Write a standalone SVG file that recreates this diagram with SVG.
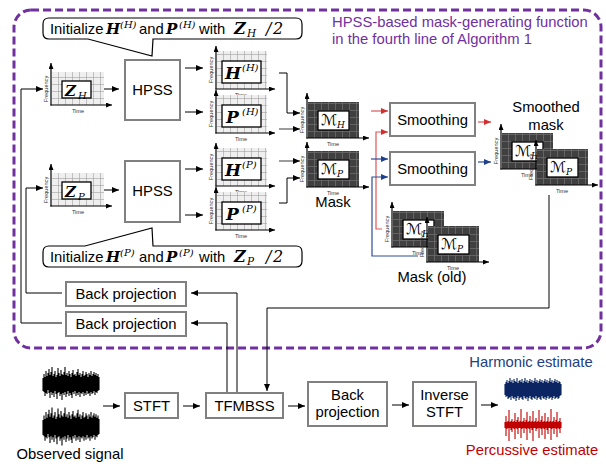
<svg xmlns="http://www.w3.org/2000/svg" xmlns:xlink="http://www.w3.org/1999/xlink" width="606" height="466" viewBox="0 0 606 466">
<style>
.t{font-family:"Liberation Sans",Arial,sans-serif;font-size:14.8px;fill:#000}
.sm{font-family:"Liberation Sans",Arial,sans-serif;font-size:5.6px;fill:#333}
.mb{font-family:"DejaVu Serif","Liberation Serif",serif;font-weight:bold;font-style:italic}
.mi{font-family:"DejaVu Serif","Liberation Serif",serif;font-style:italic}
.cal{font-family:"DejaVu Sans","DejaVu Serif",sans-serif;font-size:15px}
.bx{fill:#fff;stroke:#808080;stroke-width:2}
.ib{fill:#fff;stroke:#000;stroke-width:1.3}
.ax{fill:none;stroke:#000;stroke-width:1.2;marker-end:url(#axh)}
.ar{fill:none;stroke:#000;stroke-width:1;marker-end:url(#ah)}
.ag{fill:none;stroke:#666;stroke-width:1.3;marker-end:url(#ah)}
.rd{fill:none;stroke:#e05555;stroke-width:1.2;marker-end:url(#ahr)}
.bl{fill:none;stroke:#2e4c9a;stroke-width:1.2;marker-end:url(#ahb)}
.cl{fill:#fff;stroke:#000;stroke-width:1.2}
</style>
<defs>
<marker id="ah" markerUnits="userSpaceOnUse" markerWidth="7" markerHeight="6" refX="7" refY="3" orient="auto"><path d="M0,0 L7,3 L0,6 z" fill="#000"/></marker>
<marker id="axh" markerUnits="userSpaceOnUse" markerWidth="6" markerHeight="5" refX="6" refY="2.5" orient="auto"><path d="M0,0 L6,2.5 L0,5 z" fill="#000"/></marker>
<marker id="ahr" markerUnits="userSpaceOnUse" markerWidth="7" markerHeight="6" refX="7" refY="3" orient="auto"><path d="M0,0 L7,3 L0,6 z" fill="#d42f2f"/></marker>
<marker id="ahb" markerUnits="userSpaceOnUse" markerWidth="7" markerHeight="6" refX="7" refY="3" orient="auto"><path d="M0,0 L7,3 L0,6 z" fill="#1f3f8f"/></marker>
<pattern id="gl" width="7" height="7" patternUnits="userSpaceOnUse"><rect width="7" height="7" fill="#efefef"/><path d="M0,0.5 H7 M0.5,0 V7" stroke="#a0a0a0" stroke-width="0.6"/></pattern>
<pattern id="gd" width="7" height="7" patternUnits="userSpaceOnUse"><rect width="7" height="7" fill="#404040"/><path d="M0,0.5 H7 M0.5,0 V7" stroke="#6c6c6c" stroke-width="0.8"/></pattern>
<!-- light spectrogram, large inner box -->
<g id="gH">
<rect x="1" y="-38" width="50" height="38" fill="url(#gl)"/>
<rect class="ib" x="6" y="-28" width="39" height="22"/>
<path class="ax" d="M0,0.6 V-43"/><path class="ax" d="M-0.6,0 H59"/>
<text class="sm" transform="translate(-3,-19) rotate(-90)" text-anchor="middle">Frequency</text>
<text class="sm" x="25" y="7.5" text-anchor="middle">Time</text>
</g>
<!-- light spectrogram, small inner box -->
<g id="gZ">
<rect x="1" y="-33" width="52" height="33" fill="url(#gl)"/>
<rect class="ib" x="11" y="-24" width="29" height="17"/>
<path class="ax" d="M0,0.6 V-42"/><path class="ax" d="M-0.6,0 H61"/>
<text class="sm" transform="translate(-3,-16) rotate(-90)" text-anchor="middle">Frequency</text>
<text class="sm" x="27" y="7.5" text-anchor="middle">Time</text>
</g>
<!-- dark mask plot -->
<g id="gM">
<rect x="1" y="-36" width="51" height="36" fill="url(#gd)"/>
<rect class="ib" x="11" y="-27" width="31" height="19"/>
<path class="ax" d="M0,0.6 V-45"/><path class="ax" d="M-0.6,0 H62"/>
<text class="sm" transform="translate(-3,-18) rotate(-90)" text-anchor="middle">Frequency</text>
<text class="sm" x="26" y="7.5" text-anchor="middle">Time</text>
</g>
<!-- waveforms -->
<path id="wObs" fill="none" stroke="#000" stroke-width="1.1" d="M0,-6V7M1,-10V8M2,-7V12M3,-13V9M4,-8V10M5,-11V6M6,-15V9M7,-9V14M8,-12V8M9,-17V11M10,-8V9M11,-10V13M12,-13V7M13,-7V10M14,-9V15M15,-16V9M16,-11V8M17,-8V12M18,-14V10M19,-10V16M20,-9V9M21,-12V11M22,-17V8M23,-9V13M24,-11V10M25,-8V7M26,-13V12M27,-10V9M28,-7V11M29,-11V14M30,-14V8M31,-9V10M32,-10V7M33,-8V12M34,-12V9M35,-15V11M36,-9V8M37,-11V13M38,-7V9M39,-10V10M40,-13V8M41,-8V12M42,-9V9M43,-12V11M44,-10V7M45,-7V10M46,-11V9M47,-9V12M48,-13V8M49,-8V10M50,-10V9M51,-12V7M52,-9V11M53,-11V8M54,-8V9M55,-10V7M56,-7V6"/>
<path id="wHar" fill="none" stroke="#0b2563" stroke-width="1.1" d="M0,-6V5M1,-8V7M2,-10V6M3,-7V9M4,-9V8M5,-12V7M6,-8V10M7,-10V6M8,-7V8M9,-11V9M10,-9V7M11,-8V11M12,-12V8M13,-7V6M14,-9V10M15,-10V8M16,-8V7M17,-11V9M18,-7V10M19,-9V6M20,-12V8M21,-8V9M22,-10V7M23,-7V11M24,-9V8M25,-11V6M26,-8V9M27,-10V10M28,-7V7M29,-9V8M30,-12V9M31,-8V6M32,-10V10M33,-7V8M34,-9V7M35,-11V9M36,-8V10M37,-10V6M38,-7V8M39,-9V9M40,-11V7M41,-8V10M42,-10V8M43,-7V6M44,-9V9M45,-12V8M46,-8V7M47,-10V10M48,-7V8M49,-9V6M50,-11V9M51,-8V8M52,-10V7M53,-7V9M54,-9V8M55,-8V6M56,-6V5"/>
<path id="wPer" fill="none" stroke="#c00000" stroke-width="1.1" d="M0,-3V3M1,-9V11M2,-3V4M3,-4V3M4,-15V16M5,-3V3M6,-4V5M7,-6V7M8,-3V3M9,-4V4M10,-12V14M11,-3V3M12,-5V4M13,-8V9M14,-3V3M15,-4V3M16,-16V13M17,-3V4M18,-4V3M19,-7V8M20,-3V3M21,-5V4M22,-13V15M23,-3V3M24,-4V4M25,-9V8M26,-3V3M27,-4V5M28,-14V16M29,-3V3M30,-4V3M31,-7V6M32,-3V4M33,-4V3M34,-15V13M35,-3V3M36,-5V4M37,-9V10M38,-3V3M39,-4V4M40,-12V14M41,-3V3M42,-4V5M43,-8V9M44,-3V3M45,-4V3M46,-16V15M47,-3V4M48,-4V3M49,-8V9M50,-3V3M51,-5V4M52,-13V12M53,-3V3M54,-4V4M55,-7V8M56,-3V3"/>
</defs>

<rect width="606" height="466" fill="#fff"/>

<!-- mask-generating function frame -->
<g id="frame">
<rect x="14" y="10" width="587" height="338" rx="17" fill="none" stroke="#7030a0" stroke-width="3" stroke-dasharray="8 4"/>
<text x="332" y="27" font-family="Liberation Sans,Arial,sans-serif" font-size="14.8" fill="#7030a0">HPSS-based mask-generating function</text>
<text x="332" y="44" font-family="Liberation Sans,Arial,sans-serif" font-size="14.8" fill="#7030a0">in the fourth line of Algorithm 1</text>
</g>

<!-- connectors -->
<g id="connectors">
<path class="ar" d="M104,89 H119"/>
<path class="ar" d="M104,190 H119"/>
<path class="ar" d="M185,68 H203"/>
<path class="ar" d="M185,112 H203"/>
<path class="ar" d="M185,169 H203"/>
<path class="ar" d="M185,215 H203"/>
<path class="ar" d="M279,73 H287 V113 H300"/>
<path class="ag" d="M279,129 H300"/>
<path class="ag" d="M279,161 H300"/>
<path class="ar" d="M279,203 H287 V178 H300"/>
<path class="rd" d="M371,111 H388"/>
<path class="rd" d="M382,229 H376 V132 H388"/>
<path class="bl" d="M371,159 H388"/>
<path class="bl" d="M418,256 H372 V177 H388"/>
<path class="rd" d="M478,122 H491"/>
<path class="bl" d="M478,162 H491"/>
<path class="ar" d="M549,195 V308 H267 V391"/>
<path class="ar" d="M237,393 V293 H191"/>
<path class="ar" d="M227,393 V323 H191"/>
<path class="ar" d="M62,293 H26 V188 H43"/>
<path class="ar" d="M62,323 H21 V89 H43"/>
<path class="ar" d="M103,406 H120"/>
<path class="ar" d="M183,406 H200"/>
<path class="ar" d="M288,406 H305"/>
<path class="ar" d="M392,405 H409"/>
<path class="ar" d="M481,405 H498"/>
</g>

<!-- initialisation notes -->
<g id="noteH">
<path class="cl" d="M49,18 H296 Q302,18 302,24 V33 Q302,39 296,39 H153 L152,56 L88,39 H49 Q43,39 43,33 V24 Q43,18 49,18 Z"/>
<text class="t" y="34" font-size="14"><tspan x="50">Initialize</tspan><tspan class="mb" x="106" font-size="15">H</tspan><tspan class="mi" x="120" dy="-6" font-size="10">(H)</tspan><tspan x="139" dy="6">and</tspan><tspan class="mb" x="166" font-size="15">P</tspan><tspan class="mi" x="179" dy="-6" font-size="10">(H)</tspan><tspan x="199" dy="6">with</tspan><tspan class="mb" x="234" font-size="16">Z</tspan><tspan class="mi" x="247" dy="3" font-size="10.5">H</tspan><tspan class="mi" x="266" dy="-3" font-size="16" font-style="normal">/</tspan><tspan class="mi" x="273" font-size="16" font-style="normal">2</tspan></text>
</g>
<g id="noteP">
<path class="cl" d="M49,246 H85 L152,228 L153,246 H296 Q302,246 302,252 V261 Q302,267 296,267 H49 Q43,267 43,261 V252 Q43,246 49,246 Z"/>
<text class="t" y="262" font-size="14"><tspan x="50">Initialize</tspan><tspan class="mb" x="106" font-size="15">H</tspan><tspan class="mi" x="120" dy="-6" font-size="10">(P)</tspan><tspan x="139" dy="6">and</tspan><tspan class="mb" x="166" font-size="15">P</tspan><tspan class="mi" x="179" dy="-6" font-size="10">(P)</tspan><tspan x="199" dy="6">with</tspan><tspan class="mb" x="234" font-size="16">Z</tspan><tspan class="mi" x="247" dy="3" font-size="10.5">P</tspan><tspan class="mi" x="266" dy="-3" font-size="16" font-style="normal">/</tspan><tspan class="mi" x="273" font-size="16" font-style="normal">2</tspan></text>
</g>

<!-- inputs -->
<g id="ZH"><use xlink:href="#gZ" x="51" y="105"/><text class="mb" x="65" y="96" font-size="15">Z</text><text class="mi" x="78" y="99" font-size="10">H</text></g>
<g id="ZP"><use xlink:href="#gZ" x="51" y="206"/><text class="mb" x="65" y="197" font-size="15">Z</text><text class="mi" x="78" y="200" font-size="10">P</text></g>

<g id="hpssH"><rect class="bx" x="125" y="60" width="55" height="60"/><text class="t" x="152.5" y="95" text-anchor="middle" font-size="15">HPSS</text></g>
<g id="hpssP"><rect class="bx" x="125" y="161" width="55" height="61"/><text class="t" x="152.5" y="196" text-anchor="middle" font-size="15">HPSS</text></g>

<g id="HH"><use xlink:href="#gH" x="216" y="89"/><text class="mb" x="225" y="79" font-size="17">H</text><text class="mi" x="242" y="71" font-size="10">(H)</text></g>
<g id="PH"><use xlink:href="#gH" x="216" y="133"/><text class="mb" x="226" y="123" font-size="17">P</text><text class="mi" x="242" y="115" font-size="10">(H)</text></g>
<g id="HP"><use xlink:href="#gH" x="216" y="186"/><text class="mb" x="225" y="176" font-size="17">H</text><text class="mi" x="242" y="168" font-size="10">(P)</text></g>
<g id="PP"><use xlink:href="#gH" x="216" y="230"/><text class="mb" x="226" y="220" font-size="17">P</text><text class="mi" x="242" y="212" font-size="10">(P)</text></g>

<!-- masks -->
<g id="maskH"><use xlink:href="#gM" x="307" y="138"/><text class="cal" x="321" y="125">ℳ</text><text class="mi" x="337" y="128" font-size="9">H</text></g>
<g id="maskP"><use xlink:href="#gM" x="307" y="187"/><text class="cal" x="321" y="174">ℳ</text><text class="mi" x="337" y="177" font-size="9">P</text><text class="t" x="333" y="207" text-anchor="middle" font-size="15">Mask</text></g>

<g id="smooth1"><rect class="bx" x="390" y="103" width="85" height="33"/><text class="t" x="432.5" y="125" text-anchor="middle" font-size="15">Smoothing</text></g>
<g id="smooth2"><rect class="bx" x="390" y="152" width="85" height="33"/><text class="t" x="432.5" y="174" text-anchor="middle" font-size="15">Smoothing</text></g>

<g id="smoothedMask">
<text class="t" x="546" y="112" text-anchor="middle" font-size="15">Smoothed</text>
<text class="t" x="546" y="130" text-anchor="middle" font-size="15">mask</text>
<use xlink:href="#gM" x="501" y="169"/><text class="cal" x="515" y="156">ℳ</text><text class="mi" x="531" y="159" font-size="9">H</text>
<use xlink:href="#gM" x="536" y="185"/><text class="cal" x="550" y="172">ℳ</text><text class="mi" x="566" y="175" font-size="9">P</text>
</g>

<g id="oldMask">
<use xlink:href="#gM" x="392" y="247"/><text class="cal" x="406" y="234">ℳ</text><text class="mi" x="422" y="237" font-size="9">H</text>
<use xlink:href="#gM" x="427" y="262"/><text class="cal" x="441" y="249">ℳ</text><text class="mi" x="457" y="252" font-size="9">P</text>
<text class="t" x="432" y="282" text-anchor="middle" font-size="15">Mask (old)</text>
</g>

<g id="bp1"><rect class="bx" x="66" y="282" width="120" height="24"/><text class="t" x="126" y="299" text-anchor="middle">Back projection</text></g>
<g id="bp2"><rect class="bx" x="66" y="312" width="120" height="24"/><text class="t" x="126" y="329" text-anchor="middle">Back projection</text></g>

<!-- signal chain -->
<g id="observed">
<use xlink:href="#wObs" x="43" y="384"/>
<use xlink:href="#wObs" transform="translate(43,427) scale(1,1.15)"/>
<text class="t" x="70" y="459" text-anchor="middle">Observed signal</text>
</g>
<g id="stft"><rect class="bx" x="125" y="393" width="53" height="25"/><text class="t" x="151.5" y="411" text-anchor="middle" font-size="15">STFT</text></g>
<g id="tfmbss"><rect class="bx" x="206" y="393" width="77" height="25"/><text class="t" x="244.5" y="411" text-anchor="middle" font-size="15">TFMBSS</text></g>
<g id="bp3"><rect class="bx" x="308" y="382" width="79" height="44"/><text class="t" x="347.5" y="400" text-anchor="middle" font-size="15">Back</text><text class="t" x="347.5" y="417" text-anchor="middle" font-size="15">projection</text></g>
<g id="istft"><rect class="bx" x="413" y="382" width="63" height="44"/><text class="t" x="444.5" y="400" text-anchor="middle" font-size="15">Inverse</text><text class="t" x="444.5" y="417" text-anchor="middle" font-size="15">STFT</text></g>
<g id="estimates">
<text class="t" x="531" y="367" text-anchor="middle" style="fill:#22407f">Harmonic estimate</text>
<use xlink:href="#wHar" x="505" y="390"/>
<use xlink:href="#wPer" x="505" y="425"/>
<text class="t" x="532" y="455" text-anchor="middle" style="fill:#c00000">Percussive estimate</text>
</g>
</svg>
